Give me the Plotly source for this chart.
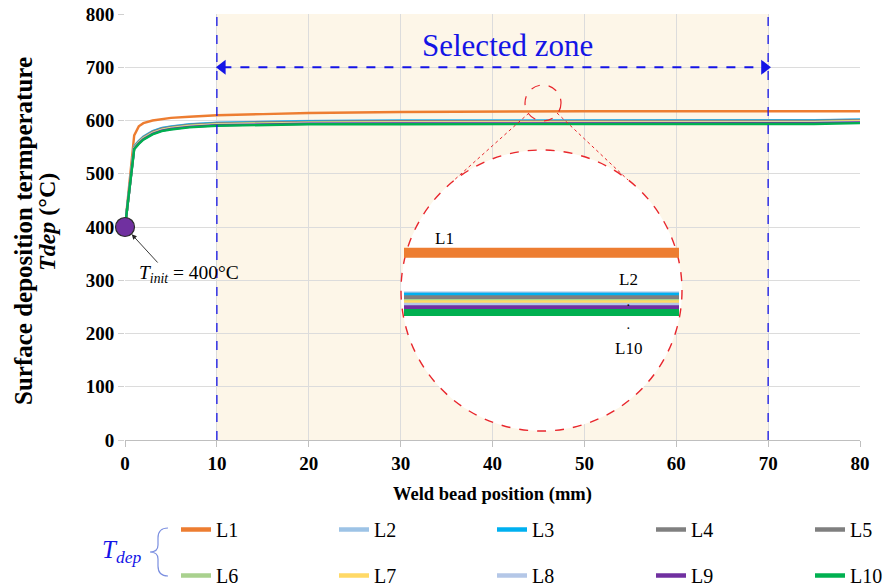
import plotly.graph_objects as go

# ---- data -------------------------------------------------------------
pos_mm = [0, 0.5, 1, 1.5, 2, 3, 4, 5, 7, 10, 15, 20, 30, 40, 50, 60, 70, 75, 80]

L1 = [400, 485, 572, 589, 595, 600, 603, 605, 607, 610, 612, 614, 616, 617, 617.5, 617.5, 617.5, 617.5, 617.5]
L2 = [400, 478, 552, 562, 570, 580, 586, 589, 593, 596, 598, 599, 600, 600, 600, 600, 600, 600.5, 602]
L3 = [400, 478, 551, 561, 569, 579.5, 585.5, 588.5, 592.5, 595.5, 597.5, 598.5, 599.5, 599.5, 599.5, 599.5, 599.5, 600, 601.5]
L4 = [400, 477, 550, 560, 568, 578.5, 584.5, 587.5, 591.5, 594.5, 596.5, 597.5, 598.5, 598.5, 598.5, 598.5, 598.5, 599, 600.5]
L5 = [400, 477, 550, 560, 568, 578, 584, 587, 591, 594, 596, 597, 598, 598, 598, 598, 598, 598.5, 600]
L6 = [400, 476, 549, 559, 567, 577, 583, 586, 590, 593, 595, 596, 597, 597, 597, 597, 597, 597.5, 599]
L7 = [400, 476, 548, 558, 566, 576.5, 582.5, 585.5, 589.5, 592.5, 594.5, 595.5, 596.5, 596.5, 596.5, 596.5, 596.5, 597, 598.5]
L8 = [400, 475, 547, 557, 565, 575.5, 581.5, 584.5, 588.5, 591.5, 593.5, 594.5, 595.5, 595.5, 595.5, 595.5, 595.5, 596, 597.5]
L9 = [400, 475, 547, 557, 565, 575, 581, 584, 588, 591, 593, 594, 594.5, 594.5, 594.5, 594.5, 594.5, 595, 596.5]
L10 = [400, 474, 546, 556, 564, 574, 580, 583, 587, 590, 592, 593, 593, 593, 593, 593, 593, 593.5, 595]

series_names = ["L1", "L2", "L3", "L4", "L5", "L6", "L7", "L8", "L9", "L10"]
series_values = [L1, L2, L3, L4, L5, L6, L7, L8, L9, L10]
series_colors = ["#ED7D31", "#9DC3E6", "#00B0F0", "#808080", "#7F7F7F",
                 "#A9D18E", "#FFD966", "#B4C7E7", "#7030A0", "#00B050"]

T_init = 400
zone_start, zone_end = 10, 70
x_ticks = [0, 10, 20, 30, 40, 50, 60, 70, 80]
y_ticks = [0, 100, 200, 300, 400, 500, 600, 700, 800]

SERIF = "Liberation Serif, Times New Roman, serif"
BLUE = "#1414E6"
RED = "#E8262C"

# ---- page geometry ------------------------------------------------------
W, H = 884, 588
ml, mr, mt, mb = 125, 24, 14, 148
pw, ph = W - ml - mr, H - mt - mb


def px_x(p):
    return (p - ml) / pw


def px_y(p):
    return (H - mb - p) / ph


def dx(p):
    # horizontal page pixel -> x value (mm)
    return (p - ml) / pw * 80


def dy(p):
    # vertical page pixel -> y value (degC)
    return (H - mb - p) / ph * 800


fig = go.Figure()

# ---- main curves --------------------------------------------------------
for name, vals, col in zip(series_names, series_values, series_colors):
    fig.add_trace(go.Scatter(x=pos_mm, y=vals, mode="lines", name=name,
                             line=dict(color=col, width=2.4),
                             showlegend=False))

# initial temperature marker
fig.add_trace(go.Scatter(x=[0], y=[T_init], mode="markers", showlegend=False,
                         cliponaxis=False,
                         marker=dict(size=19, color="#7030A0",
                                     line=dict(color="#2B2B2B", width=1.2))))

# selected-zone double arrow
fig.add_trace(go.Scatter(x=[zone_start + 0.6, zone_end - 0.4], y=[700, 700],
                         mode="lines+markers", showlegend=False, hoverinfo="skip",
                         line=dict(color=BLUE, width=2, dash="dash"),
                         marker=dict(symbol=["triangle-left", "triangle-right"],
                                     size=13, color=BLUE)))

# ---- magnified view (inset axes) --------------------------------------
for i, (name, vals, col) in enumerate(zip(series_names, series_values, series_colors)):
    fig.add_trace(go.Scatter(x=pos_mm, y=vals, mode="lines", name=name,
                             xaxis="x2", yaxis="y2", showlegend=False,
                             line=dict(color=col, width=10 if i == 0 else 7)))

# ---- legend entries (5 columns x 2 rows) --------------------------------
legend_ids = ["legend", "legend2", "legend3", "legend4", "legend5"]
for i, (name, col) in enumerate(zip(series_names, series_colors)):
    fig.add_trace(go.Scatter(x=[None], y=[None], mode="lines", name=name,
                             line=dict(color=col, width=4.5),
                             legend=legend_ids[i % 5], legendgroup=name))

# ---- layout -------------------------------------------------------------
brace = (f"M {px_x(168)} {px_y(528)} Q {px_x(158)} {px_y(528)} {px_x(158)} {px_y(538)} "
         f"L {px_x(158)} {px_y(545)} Q {px_x(158)} {px_y(552)} {px_x(150)} {px_y(552)} "
         f"Q {px_x(158)} {px_y(552)} {px_x(158)} {px_y(559)} "
         f"L {px_x(158)} {px_y(566)} Q {px_x(158)} {px_y(576)} {px_x(168)} {px_y(576)}")

shapes = [
    # selected zone shading
    dict(type="rect", xref="x", yref="y", x0=zone_start, x1=zone_end, y0=0, y1=800,
         fillcolor="#FDF6E8", line=dict(width=0), layer="below"),
    # zone borders
    dict(type="line", xref="x", yref="y", x0=zone_start, x1=zone_start, y0=0, y1=800,
         line=dict(color=BLUE, width=1.3, dash="dash"), layer="above"),
    dict(type="line", xref="x", yref="y", x0=zone_end, x1=zone_end, y0=0, y1=800,
         line=dict(color=BLUE, width=1.3, dash="dash"), layer="above"),
    # magnifier: large circle
    dict(type="circle", xref="x", yref="y",
         x0=dx(401), x1=dx(682), y0=dy(431), y1=dy(150),
         fillcolor="white", line=dict(color=RED, width=1.4, dash="dash"), layer="between"),
    # magnifier: small circle
    dict(type="circle", xref="x", yref="y",
         x0=dx(525), x1=dx(561), y0=dy(121), y1=dy(85),
         line=dict(color=RED, width=1.2, dash="dash"), layer="above"),
    # connector lines
    dict(type="line", xref="x", yref="y",
         x0=dx(529), y0=dy(113), x1=dx(452), y1=dy(182),
         line=dict(color=RED, width=1, dash="dot"), layer="above"),
    dict(type="line", xref="x", yref="y",
         x0=dx(557), y0=dy(113), x1=dx(628), y1=dy(180),
         line=dict(color=RED, width=1, dash="dot"), layer="above"),
    # legend group brace
    dict(type="path", xref="paper", yref="paper", path=brace,
         line=dict(color="#7B8FE0", width=1.2)),
]


def note(text, px, py, size, color="black", angle=0, family=SERIF):
    return dict(text=text, x=px_x(px), y=px_y(py), xref="paper", yref="paper",
                xanchor="center", yanchor="middle", showarrow=False, textangle=angle,
                font=dict(family=family, size=size, color=color))


annotations = [
    note("Selected zone", 507, 45, 31, color=BLUE),
    # initial temperature label
    dict(x=0, y=T_init, xref="x", yref="y", ax=34, ay=37, text="", showarrow=True,
         arrowhead=2, arrowsize=1.1, arrowwidth=0.9, arrowcolor="#222222", standoff=10),
    note("<i>T</i><sub><i>init</i></sub> = 400°C", 189, 274, 19.5),
    # inset labels
    note("L1", 444, 238, 17),
    note("L2", 628, 279, 17),
    note("L10", 628, 348, 17),
    note("·", 628, 305, 14),
    note("·", 628, 328, 14),
    # axis titles
    note("<b>Surface deposition termperature</b>", 23, 231, 25, angle=-90),
    note("<b><i>Tdep</i> (°C)</b>", 47, 222, 24, angle=-90),
    note("<b>Weld bead position (mm)</b>", 492, 494, 18.5),
    # legend group label
    note("<i>T</i><sub><i>dep</i></sub>", 121, 551, 25, color=BLUE),
]

legend_x = [176, 334, 492, 651, 810]
legend_common = dict(orientation="v", yanchor="top", xanchor="left", y=px_y(510),
                     font=dict(family=SERIF, size=20, color="black"),
                     bgcolor="rgba(0,0,0,0)", tracegroupgap=17, itemwidth=30,
                     traceorder="grouped")

layout = dict(
    width=W, height=H,
    margin=dict(l=ml, r=mr, t=mt, b=mb, autoexpand=False),
    paper_bgcolor="white", plot_bgcolor="rgba(0,0,0,0)",
    xaxis=dict(range=[0, 80], tickvals=x_ticks, showgrid=True, gridcolor="#DCDCDC",
               gridwidth=1, zeroline=False, showline=True, linecolor="#BFBFBF",
               ticks="outside", ticklen=6, tickcolor="#BFBFBF", layer="below traces",
               tickfont=dict(family=SERIF, size=19, color="black", weight="bold")),
    yaxis=dict(range=[0, 800], tickvals=y_ticks, showgrid=True, gridcolor="#DCDCDC",
               gridwidth=1, zeroline=False, showline=False,
               ticks="outside", ticklen=6, tickcolor="#D0D0D0", layer="below traces",
               tickfont=dict(family=SERIF, size=19, color="black", weight="bold")),
    xaxis2=dict(domain=[px_x(404), px_x(679)], range=[44, 47], anchor="y2",
                visible=False, showgrid=False, zeroline=False),
    yaxis2=dict(domain=[px_y(430), px_y(150)], range=[546.2, 658.2], anchor="x2",
                visible=False, showgrid=False, zeroline=False),
    shapes=shapes, annotations=annotations,
    hovermode="closest",
)
for lid, lx in zip(legend_ids, legend_x):
    layout[lid] = dict(legend_common, x=px_x(lx))

fig.update_layout(**layout)
fig.write_html("out.html")
